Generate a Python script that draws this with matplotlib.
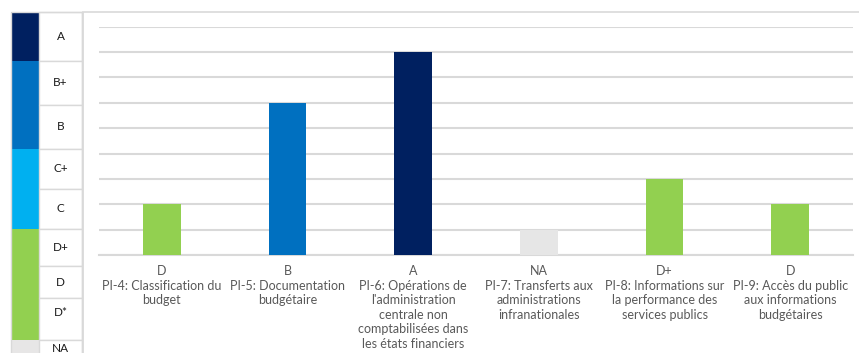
import matplotlib.pyplot as plt
from matplotlib.patches import Rectangle

plt.rcParams['font.family'] = ['Lato', 'DejaVu Sans']

# indicator scores (0 = nothing, NA = 1, D = 2 ... A = 8)
labels = [
    "PI-4: Classification du\nbudget",
    "PI-5: Documentation\nbudgétaire",
    "PI-6: Opérations de\nl'administration\ncentrale non\ncomptabilisées dans\nles états financiers",
    "PI-7: Transferts aux\nadministrations\ninfranationales",
    "PI-8: Informations sur\nla performance des\nservices publics",
    "PI-9: Accès du public\naux informations\nbudgétaires",
]
grades = ['D', 'B', 'A', 'NA', 'D+', 'D']
scores = [2, 6, 8, 1, 3, 2]

# grade scale shown at the left
scale_grades = ['A', 'B+', 'B', 'C+', 'C', 'D+', 'D', 'D*', 'NA']
scale_rows = [12, 61, 105, 149, 189, 229, 266, 298, 340, 380]
scale_blocks = [(12, 61, '#002060'), (61, 149, '#0070C0'), (149, 229, '#00B0F0'),
                (229, 340, '#92D050'), (340, 380, '#E7E6E6')]

grade_colors = {'A': '#002060', 'B+': '#0070C0', 'B': '#0070C0', 'C+': '#00B0F0', 'C': '#00B0F0',
                'D+': '#92D050', 'D': '#92D050', 'D*': '#92D050', 'NA': '#E6E6E6'}

W, H = 859, 353
fig = plt.figure(figsize=(W / 100, H / 100), dpi=100)

def fx(px):
    return px / W

def fy(py):
    return 1 - py / H

grid_col = '#D9D9D9'

# outer chart frame
fig.patches.append(Rectangle((fx(83), fy(400)), fx(800), 388 / H, transform=fig.transFigure,
                             facecolor='none', edgecolor=grid_col, lw=1.2, zorder=0))

# scale table
for top, bot, c in scale_blocks:
    fig.patches.append(Rectangle((fx(11), fy(bot)), fx(28), (bot - top) / H, transform=fig.transFigure,
                                 facecolor=c, edgecolor='none', zorder=1))
for i, g in enumerate(scale_grades):
    top, bot = scale_rows[i], scale_rows[i + 1]
    fig.patches.append(Rectangle((fx(39), fy(bot)), fx(43), (bot - top) / H, transform=fig.transFigure,
                                 facecolor='white', edgecolor=grid_col, lw=1.0, zorder=1))
    ty = (top + bot) / 2 if g != 'NA' else 348
    if g == 'D*':
        ty = top + 14
    fig.text(fx(60.5), fy(ty), g, ha='center', va='center', fontsize=8.5, color='#1a1a1a')
fig.patches.append(Rectangle((fx(11), fy(380)), fx(71), 368 / H, transform=fig.transFigure,
                             facecolor='none', edgecolor=grid_col, lw=1.0, zorder=2))

# main bar chart
ax = fig.add_axes([fx(99), fy(255), fx(754), (255 - 26.7) / H])
x = range(len(scores))
ax.bar(x, scores, width=0.3, color=[grade_colors[g] for g in grades], zorder=3)
ax.set_xlim(-0.5, len(scores) - 0.5)
ax.set_ylim(0, 9)
ax.set_yticks(range(0, 10))
ax.yaxis.grid(True, color=grid_col, lw=1.5)
ax.set_axisbelow(True)
for s in ['top', 'right', 'left']:
    ax.spines[s].set_visible(False)
ax.spines['bottom'].set_color(grid_col)
ax.spines['bottom'].set_linewidth(1.5)
ax.tick_params(left=False, bottom=False, labelleft=False, labelbottom=False)
ax.patch.set_alpha(0)

for i, (g, lab) in enumerate(zip(grades, labels)):
    ax.text(i, -0.4, g + "\n" + lab, ha='center', va='top', fontsize=9, color='#595959',
            linespacing=1.25, transform=ax.transData, clip_on=False)

fig.savefig('out.png', dpi=100)
